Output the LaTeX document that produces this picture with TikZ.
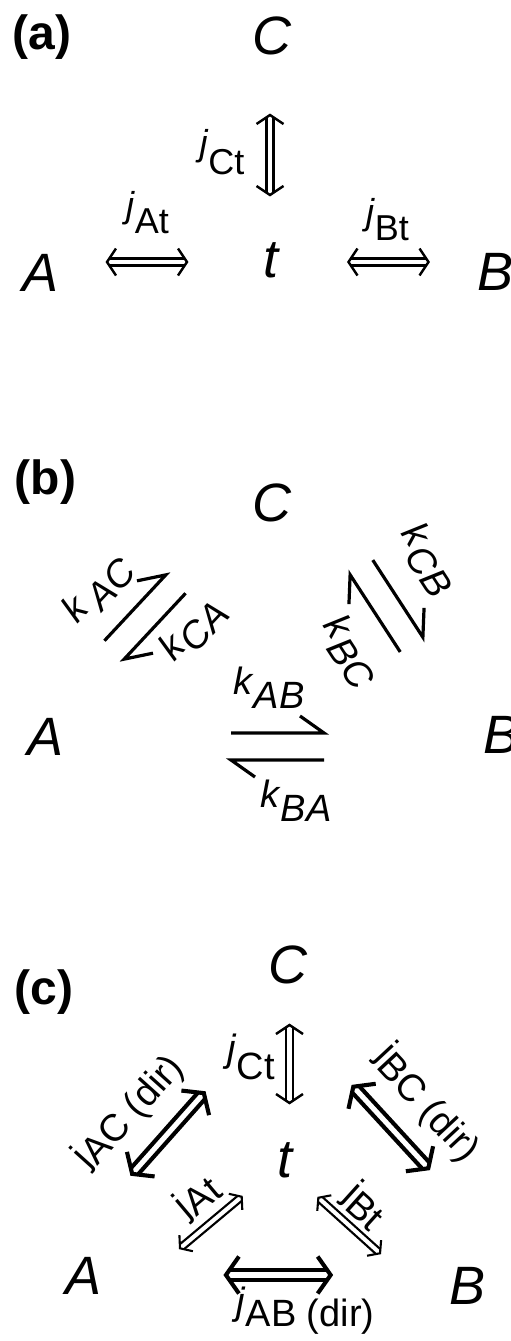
\documentclass[tikz,border=0pt]{standalone}
\usepackage{fontspec}
\setmainfont{Liberation Sans}
\newcommand{\darrow}[8]{%
  \begin{scope}[shift={(#1,#2)}, rotate=#3]
    \pgfmathsetmacro\dAhl{#4/2}
    \pgfmathsetmacro\dAle{\dAhl - #7*#6/(2*#8)}
    \draw[line width=#5, line cap=butt] (-\dAle, #6/2) -- (\dAle, #6/2) (-\dAle,-#6/2) -- (\dAle,-#6/2);
    \draw[line width=#5, line join=miter, line cap=butt] (\dAhl-#7, #8) -- (\dAhl,0) -- (\dAhl-#7,-#8);
    \draw[line width=#5, line join=miter, line cap=butt] (-\dAhl+#7, #8) -- (-\dAhl,0) -- (-\dAhl+#7,-#8);
  \end{scope}}
\newcommand{\thinarr}[4]{\darrow{#1}{#2}{#3}{#4}{2.4}{7.2}{9}{13.5}}
\newcommand{\smallarr}[4]{\darrow{#1}{#2}{#3}{#4}{2.1}{6.5}{8}{10.5}}
\newcommand{\thickarr}[4]{\darrow{#1}{#2}{#3}{#4}{4.1}{9.5}{13}{18.5}}
\newcommand{\harppair}[4]{%
  \begin{scope}[shift={(#1,#2)}, rotate=#3]
    \draw[harp] (-#4/2, 13.5) -- (#4/2, 13.5) -- (#4/2-24, 30.5);
    \draw[harp] (#4/2, -13.5) -- (-#4/2, -13.5) -- (-#4/2+24, -30.5);
  \end{scope}}
\newcommand{\jl}[2][15pt]{\textit{j}\raisebox{-#1}{#2}}
\newcommand{\ju}[2][6pt]{j\raisebox{-#1}{#2}}
\newcommand{\kl}[2][14pt]{\textit{k}\raisebox{-#1}{\textit{#2}}}
\begin{document}
\begin{tikzpicture}[x=1pt,y=1pt,
  main/.style={font=\fontsize{54}{54}\selectfont\itshape, inner sep=0pt},
  panel/.style={font=\fontsize{48}{48}\selectfont\bfseries, inner sep=0pt},
  lab/.style={font=\fontsize{36}{36}\selectfont, inner sep=0pt},
  clab/.style={font=\fontsize{38}{38}\selectfont, inner sep=0pt},
  klab/.style={font=\fontsize{38}{38}\selectfont, inner sep=0pt},
  harp/.style={line width=3.2, line join=miter, line cap=butt}]
\useasboundingbox (0,0) rectangle (511,-1341);
% ---------- (a)
\node[panel] (pa) at (42,-37.5) {(a)};
\node[main] (Ca) at (272,-36) {C};
\node[main] (ta) at (271,-260.5) {t};
\node[main] (Aa) at (41,-273) {A};
\node[main] (Ba) at (496,-272) {B};
\node[lab] (jCta) at (222,-152) {\jl[19pt]{Ct}};
\node[lab] (jAta) at (147.5,-212.5) {\jl[16pt]{At}};
\node[lab] (jBta) at (387.5,-219.5) {\jl[16pt]{Bt}};
\thinarr{270}{-155}{90}{80}
\thinarr{147}{-262}{0}{80}
\thinarr{388.5}{-262}{0}{80}
% ---------- (b)
\node[panel] (pb) at (45.5,-482) {(b)};
\node[main] (Cb) at (271.5,-502.5) {C};
\node[main] (Ab) at (45.5,-736.5) {A};
\node[main] (Bb) at (502,-735) {B};
\node[klab] (kAB) at (269,-687.5) {\kl{AB}};
\node[klab] (kBA) at (296,-800.5) {\kl{BA}};
\node[klab, rotate=47] (kAC) at (98,-590) {\textit{k}\hspace{6pt}\raisebox{-10pt}{\textit{AC}}};
\node[klab, rotate=47] (kCA) at (193,-630) {\kl[10pt]{CA}};
\node[klab, rotate=-57] (kCB) at (428,-560) {\kl[10pt]{CB}};
\node[klab, rotate=-57] (kBC) at (350,-652) {\kl[10pt]{BC}};
\harppair{277.5}{-746.5}{0}{93}
\harppair{145}{-617}{47}{90}
\harppair{386.5}{-606}{-57}{92}
% ---------- (c)
\node[panel] (pc) at (44,-992) {(c)};
\node[main] (Cc) at (287.5,-965) {C};
\node[main] (tc) at (285,-1160) {t};
\node[main] (Ac) at (83.5,-1276) {A};
\node[main] (Bc) at (467.5,-1286) {B};
\node[clab] (jCtc) at (251,-1057) {\jl[18pt]{Ct}};
\node[clab, rotate=48] (jACc) at (129,-1112) {\ju{AC (dir)}};
\node[clab, rotate=-47] (jBCc) at (427,-1103) {\ju[8pt]{BC (dir)}};
\node[clab, rotate=40] (jAtc) at (197,-1197) {\ju{At}};
\node[clab, rotate=-42] (jBtc) at (365,-1205) {\ju[8pt]{Bt}};
\node[clab] (jABc) at (305.5,-1310.5) {\jl[12pt]{AB (dir)}};
\thinarr{289.5}{-1064}{90}{78}
\smallarr{210.85}{-1222.5}{39.9}{80.4}
\smallarr{349.2}{-1225.5}{-42}{83}
\thickarr{168}{-1133.5}{48.4}{108}
\thickarr{390.8}{-1127.5}{-47.4}{110.8}
\thickarr{278.3}{-1275}{0}{104.7}
\end{tikzpicture}
\end{document}
